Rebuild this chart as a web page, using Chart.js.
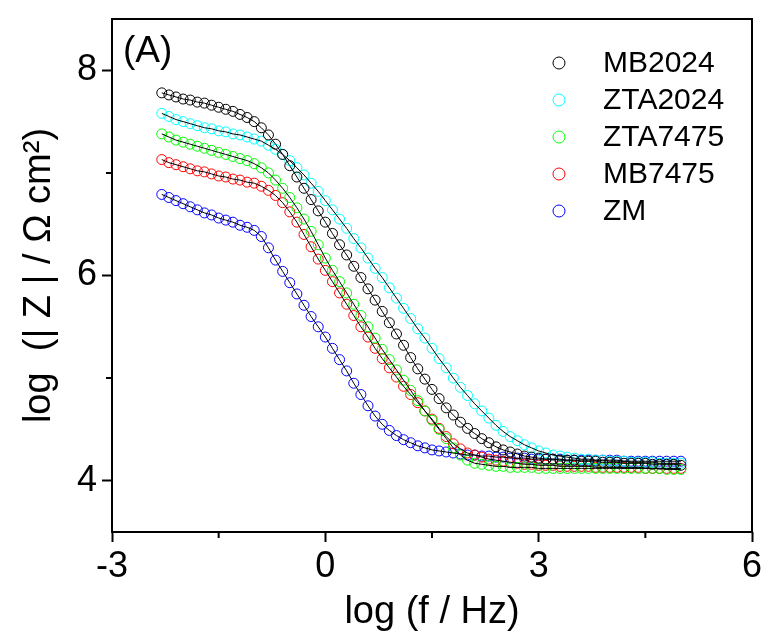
<!DOCTYPE html>
<html>
<head>
<meta charset="utf-8">
<script src="https://cdn.jsdelivr.net/npm/chart.js@4.4.1/dist/chart.umd.min.js"></script>
<style>
  html, body { margin: 0; padding: 0; background: #fff; }
  #wrap { width: 766px; height: 639px; }
</style>
</head>
<body>
<div id="wrap"><canvas id="grafico"></canvas></div>
<script>
// ===== Dados (Bode, |Z| vs frequência) =====
const logF = [-2.3,-2.2,-2.1,-2.0,-1.9,-1.8,-1.7,-1.6,-1.5,-1.4,-1.3,-1.2,-1.1,-1.0,-0.9,-0.8,-0.7,-0.6,-0.5,-0.4,-0.3,-0.2,-0.1,
  0.0,0.1,0.2,0.3,0.4,0.5,0.6,0.7,0.8,0.9,1.0,1.1,1.2,1.3,1.4,1.5,1.6,1.7,1.8,1.9,2.0,2.1,2.2,2.3,2.4,2.5,2.6,2.7,2.8,2.9,3.0,
  3.1,3.2,3.3,3.4,3.5,3.6,3.7,3.8,3.9,4.0,4.1,4.2,4.3,4.4,4.5,4.6,4.7,4.8,4.9,5.0];

const mb2024 = [7.78,7.76,7.74,7.72,7.71,7.69,7.68,7.66,7.64,7.62,7.60,7.57,7.54,7.50,7.44,7.37,7.28,7.18,7.07,6.96,6.85,6.74,6.63,
  6.52,6.41,6.30,6.20,6.09,5.98,5.87,5.76,5.65,5.54,5.43,5.32,5.20,5.09,4.99,4.89,4.80,4.71,4.64,4.57,4.51,4.46,4.41,4.37,4.33,4.30,4.28,4.26,4.24,4.23,4.22,
  4.21,4.21,4.20,4.20,4.20,4.19,4.19,4.19,4.18,4.18,4.18,4.17,4.17,4.17,4.17,4.16,4.16,4.16,4.16,4.15];

const zta2024 = [7.58,7.55,7.52,7.50,7.48,7.46,7.44,7.43,7.41,7.40,7.38,7.37,7.35,7.33,7.31,7.27,7.23,7.18,7.12,7.05,6.98,6.90,6.82,
  6.73,6.64,6.55,6.46,6.36,6.27,6.17,6.07,5.98,5.88,5.78,5.68,5.58,5.48,5.39,5.29,5.19,5.10,5.00,4.91,4.83,4.75,4.68,4.61,4.54,4.48,4.43,4.39,4.35,4.32,4.29,
  4.27,4.25,4.24,4.23,4.22,4.21,4.21,4.20,4.20,4.19,4.19,4.19,4.18,4.18,4.18,4.18,4.17,4.17,4.17,4.17];

const zta7475 = [7.38,7.35,7.32,7.30,7.28,7.26,7.24,7.22,7.20,7.18,7.16,7.14,7.12,7.09,7.05,7.00,6.93,6.85,6.76,6.66,6.55,6.43,6.30,
  6.17,6.05,5.94,5.83,5.72,5.61,5.50,5.39,5.28,5.18,5.08,4.98,4.88,4.78,4.68,4.59,4.50,4.41,4.32,4.25,4.20,4.17,4.16,4.15,4.14,4.14,4.13,4.13,4.13,4.13,4.12,
  4.12,4.12,4.12,4.12,4.12,4.12,4.12,4.12,4.12,4.12,4.12,4.12,4.12,4.12,4.12,4.12,4.12,4.11,4.11,4.11];

const mb7475 = [7.13,7.10,7.08,7.06,7.04,7.02,7.01,6.99,6.97,6.96,6.94,6.93,6.91,6.90,6.87,6.83,6.78,6.71,6.62,6.52,6.40,6.28,6.16,
  6.05,5.94,5.83,5.72,5.61,5.50,5.40,5.29,5.19,5.10,5.01,4.92,4.84,4.76,4.68,4.60,4.51,4.43,4.36,4.31,4.27,4.25,4.23,4.21,4.20,4.19,4.18,4.17,4.16,4.16,4.15,
  4.15,4.15,4.14,4.14,4.14,4.14,4.14,4.13,4.13,4.13,4.13,4.13,4.13,4.13,4.12,4.12,4.12,4.12,4.12,4.12];

const zm = [6.79,6.76,6.73,6.70,6.67,6.64,6.61,6.59,6.56,6.54,6.52,6.49,6.47,6.44,6.38,6.27,6.15,6.04,5.93,5.82,5.71,5.60,5.50,
  5.40,5.29,5.18,5.07,4.95,4.84,4.73,4.63,4.55,4.49,4.44,4.40,4.37,4.34,4.32,4.30,4.29,4.28,4.27,4.26,4.25,4.25,4.24,4.24,4.23,4.23,4.22,4.22,4.22,4.21,4.21,
  4.21,4.21,4.21,4.20,4.20,4.20,4.20,4.20,4.20,4.20,4.20,4.19,4.19,4.19,4.19,4.19,4.19,4.19,4.19,4.19];

const nomes = ['MB2024', 'ZTA2024', 'ZTA7475', 'MB7475', 'ZM'];
const cores = ['#000000', '#00FFFF', '#00FF00', '#FF0000', '#0000FF'];
const valores = [mb2024, zta2024, zta7475, mb7475, zm];

const xTicks = [-3, 0, 3, 6];
const xMinor = [-1.5, 1.5, 4.5];
const yTicks = [4, 6, 8];
const yMinor = [5, 7];

const fonte = '"Liberation Sans", Arial, Helvetica, sans-serif';

// ===== Datasets: círculos abertos + linha de ajuste preta =====
const datasets = [];
nomes.forEach((nome, i) => {
  const pontos = logF.map((x, j) => ({ x: x, y: valores[i][j] }));
  datasets.push({
    label: nome,
    data: pontos,
    showLine: false,
    pointStyle: 'circle',
    pointRadius: 5,
    pointBorderWidth: 1,
    borderColor: cores[i],
    backgroundColor: 'rgba(0,0,0,0)',
    order: i === 0 ? 1 : 2 + i
  });
  datasets.push({
    label: nome + ' fit',
    data: pontos,
    showLine: true,
    pointRadius: 0,
    borderColor: '#000000',
    borderWidth: 1,
    tension: 0,
    order: 0
  });
});

// ===== Plugin: moldura, ticks menores, "(A)" e legenda =====
const extras = {
  id: 'extras',
  afterDraw(chart) {
    const ctx = chart.ctx;
    const a = chart.chartArea;
    const sx = chart.scales.x;
    const sy = chart.scales.y;
    ctx.save();
    ctx.strokeStyle = '#000';
    ctx.lineWidth = 2;
    ctx.strokeRect(a.left, a.top, a.right - a.left, a.bottom - a.top);

    ctx.beginPath();
    xMinor.forEach(v => {
      const px = sx.getPixelForValue(v);
      ctx.moveTo(px, a.bottom);
      ctx.lineTo(px, a.bottom + 6);
    });
    yMinor.forEach(v => {
      const py = sy.getPixelForValue(v);
      ctx.moveTo(a.left, py);
      ctx.lineTo(a.left - 6, py);
    });
    ctx.stroke();

    ctx.fillStyle = '#000';
    ctx.font = '37px ' + fonte;
    ctx.textBaseline = 'alphabetic';
    ctx.textAlign = 'left';
    ctx.fillText('(A)', a.left + 11, a.top + 43);

    // legenda
    ctx.font = '30px ' + fonte;
    ctx.textBaseline = 'middle';
    nomes.forEach((nome, i) => {
      const y = a.top + 44 + i * 37;
      ctx.beginPath();
      ctx.arc(559, y, 6, 0, Math.PI * 2);
      ctx.strokeStyle = cores[i];
      ctx.lineWidth = 1;
      ctx.stroke();
      ctx.fillStyle = '#000';
      ctx.fillText(nome, 603, y + 1);
    });
    ctx.restore();
  }
};

new Chart(document.getElementById('grafico').getContext('2d'), {
  type: 'scatter',
  data: { datasets: datasets },
  options: {
    responsive: true,
    maintainAspectRatio: false,
    animation: false,
    events: [],
    layout: { padding: { top: 19, right: 14, left: 0, bottom: 0 } },
    plugins: {
      legend: { display: false },
      tooltip: { enabled: false }
    },
    scales: {
      x: {
        type: 'linear',
        min: -3,
        max: 6,
        afterBuildTicks: s => { s.ticks = xTicks.map(v => ({ value: v })); },
        afterFit: s => { s.height = 107; s.paddingLeft = 0; s.paddingRight = 0; },
        border: { display: false },
        grid: { drawOnChartArea: false, drawTicks: true, tickLength: 10, tickColor: '#000', tickWidth: 2 },
        ticks: {
          color: '#000',
          font: { family: fonte, size: 36 },
          padding: 3,
          maxRotation: 0,
          callback: v => String(v)
        },
        title: {
          display: true,
          text: 'log (f / Hz)',
          color: '#000',
          font: { family: fonte, size: 38 },
          padding: { top: 0, bottom: 4 }
        }
      },
      y: {
        type: 'linear',
        min: 3.5,
        max: 8.5,
        afterBuildTicks: s => { s.ticks = yTicks.map(v => ({ value: v })); },
        afterFit: s => { s.width = 112; s.paddingTop = 0; s.paddingBottom = 0; },
        border: { display: false },
        grid: { drawOnChartArea: false, drawTicks: true, tickLength: 10, tickColor: '#000', tickWidth: 2 },
        ticks: {
          color: '#000',
          font: { family: fonte, size: 36 },
          padding: 5,
          callback: v => String(v)
        },
        title: {
          display: true,
          text: 'log  (| Z | / Ω cm²)',
          color: '#000',
          font: { family: fonte, size: 38 },
          padding: { top: 17, bottom: 0 }
        }
      }
    }
  },
  plugins: [extras]
});
</script>
</body>
</html>
